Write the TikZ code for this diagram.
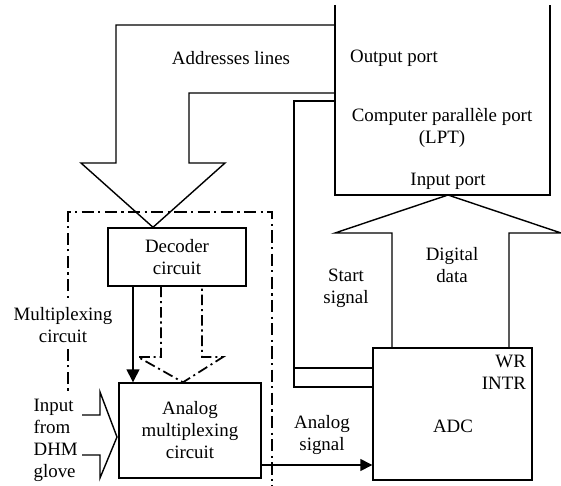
\documentclass[tikz,border=0pt]{standalone}
\usepackage{fontspec}
\setmainfont{Liberation Serif}
\usepackage{tikz}
\usetikzlibrary{arrows.meta}

\tikzset{
	box/.style={rectangle, draw, line width=0.8pt},
	lbl/.style={inner sep=1pt, align=center},
	wire/.style={line width=0.8pt},
	dashwire/.style={line width=1pt, dash pattern=on 6pt off 2.2pt on 1.2pt off 2.2pt},
	frameline/.style={line width=1.4pt, dash pattern=on 7pt off 2.5pt on 1.2pt off 2.5pt}
}

\begin{document}
\begin{tikzpicture}[x=0.2mm, y=-0.2mm, font=\fontsize{10.75}{12.5}\selectfont]
		
		\useasboundingbox (0,0) rectangle (561,486);
		
		% Frame
		
		\draw[frameline] (68,500) -- (68,212) -- (272,212) -- (272,500);
		
		% Blocks
		
		\node[rectangle, inner sep=0pt, outer sep=0pt, minimum width=43mm, minimum height=38mm] 
		(lpt) at (442.5,100) {};
		
		\draw[wire] (lpt.north west) -- (lpt.south west) -- (lpt.south east) -- (lpt.north east);
		
		\node[box, minimum width=27.6mm, minimum height=11.6mm, align=center] 
		(decoder) at (177,257) {Decoder\\circuit};
		
		\node[box, minimum width=28.4mm, minimum height=19mm, align=center] 
		(mux) at (190,430.5) {Analog\\multiplexing\\circuit};
		
		\node[box, minimum width=31.8mm, minimum height=26.4mm] 
		(adc) at (452.5,414) {};
		
		% Labels
		
		\node[lbl] (addrLabel) at (231,58) {Addresses lines};
		\node[lbl, anchor=west] (outLabel) at (348,58) {Output port};
		\node[lbl] (lptLabel) at (442,128) {Computer parallèle port\\(LPT)};
		\node[lbl] (inLabel) at (448,181) {Input port};
		\node[lbl] (startLabel) at (346,288) {Start\\signal};
		\node[lbl] (dataLabel) at (452,265) {Digital\\data};
		\node[lbl, anchor=east, align=right] (wrLabel) at (528,372) {WR\\INTR};
		\node[lbl] (adcLabel) at (453,426) {ADC};
		\node[lbl] (anaLabel) at (322,435) {Analog\\signal};
		\node[lbl, fill=white, inner sep=3pt] (muxLabel) at (63,325) {Multiplexing\\circuit};
		\node[lbl, fill=white, inner sep=3pt, align=left, anchor=west] (gloveLabel) at (28,440) {Input\\from\\DHM\\glove};
		
		% Addresses lines
		
		\draw[wire] (lpt.west |- 0,25) -- (116,25) -- (116,163) -- (81,163) -- (decoder.north -| 153,0) 
		-- (225,163) -- (189,163) -- (189,93) -- (lpt.west |- 0,93);
		
		% Start signal
		
		\draw[wire] (lpt.west |- 0,101) -- (294,101) -- (294,387) -- (adc.west |- 0,387);
		
		\draw[wire] (294,368) -- (adc.west |- 0,368);
		
		% Digital data
		
		\draw[wire] (adc.north -| 392,0) -- (392,233) -- (335,233) -- (lpt.south -| 448,0) 
		-- (561,233) -- (509,233) -- (adc.north -| 509,0);
		
		% Decoder to multiplexer
		
		\draw[wire, -{Triangle[length=2.6mm, width=2.6mm]}] (decoder.south -| 133,0) -- (mux.north -| 133,0);
		
		\draw[dashwire] (decoder.south -| 161,0) -- (161,357) -- (138,357) -- (mux.north -| 183,0) 
		-- (223,357) -- (202,357) -- (decoder.south -| 202,0);
		
		% Glove input
		
		\draw[wire] (82,415) -- (100,415) -- (100,392) -- (117,437) -- (100,478) -- (100,455) -- (82,455);
		
		% Analog signal
		
		\draw[wire, -{Triangle[length=2.4mm, width=2.4mm]}] (mux.east |- 0,465) -- (adc.west |- 0,465);
		
	\end{tikzpicture}
\end{document}
